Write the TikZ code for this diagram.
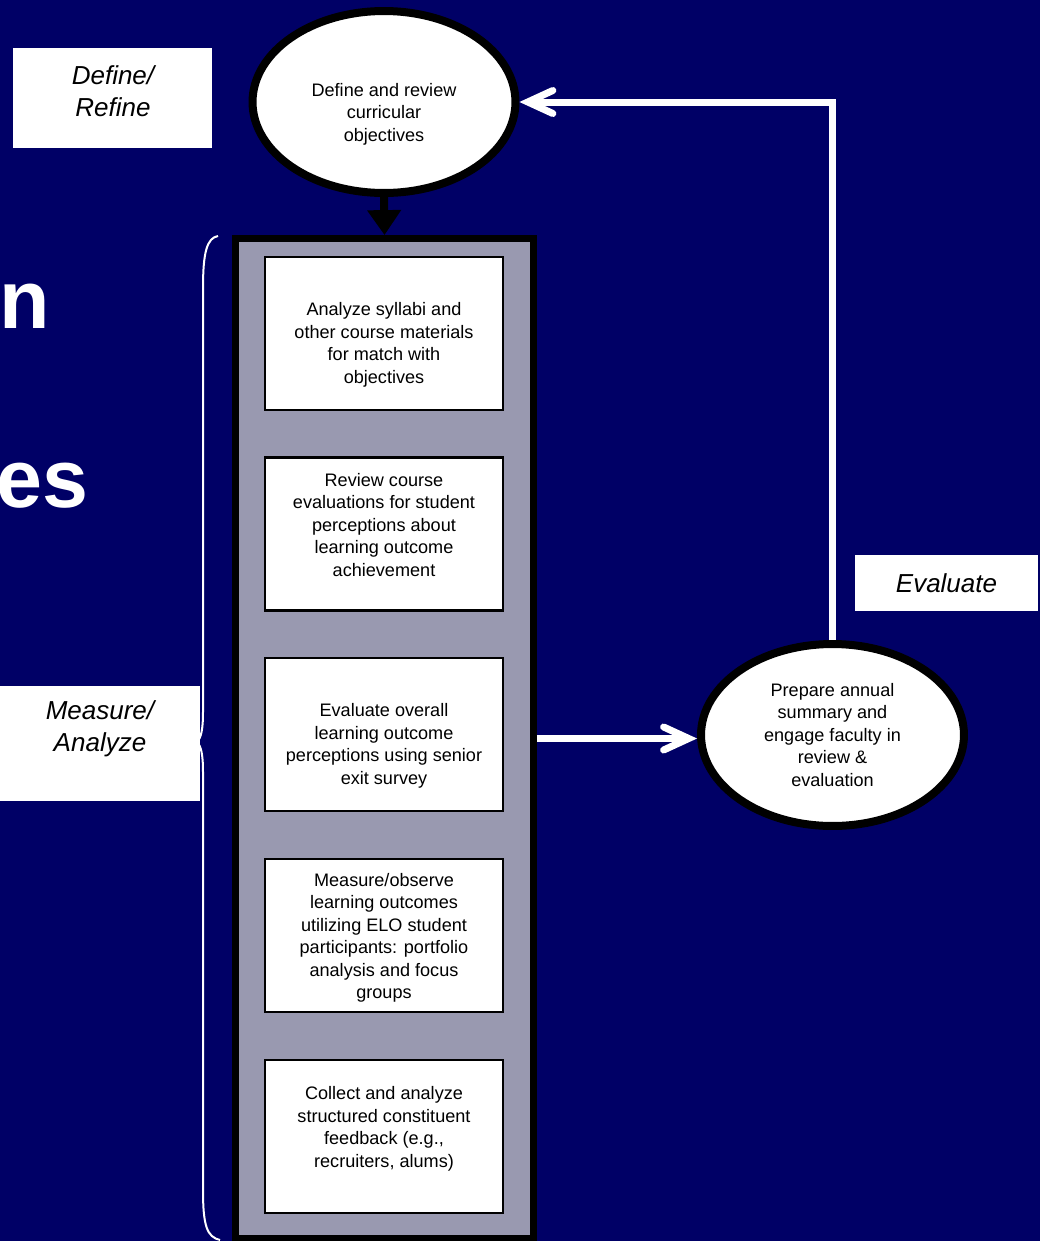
\documentclass[tikz,border=0pt]{standalone}
\usepackage{fontspec}
\setmainfont{Liberation Sans}
\usetikzlibrary{arrows.meta,shapes.geometric}

\definecolor{slidebg}{RGB}{0,0,102}
\definecolor{colgray}{RGB}{153,153,176}

\newcommand\boxfont{\fontsize{10.3}{12.8}\selectfont}
\newcommand\tagfont{\fontsize{14.8}{18}\selectfont\itshape}
\newcommand\titlefont{\fontsize{47}{50}\selectfont\bfseries}

\begin{document}
\begin{tikzpicture}[
    x=0.02cm, y=-0.02cm,
    bubble/.style={ellipse, draw=black, line width=1.6mm, fill=white, minimum width=52.6mm, minimum height=36.4mm, inner sep=0pt, font=\boxfont, align=center},
    stepbox/.style={draw=black, line width=0.45mm, fill=white, minimum width=47.6mm, minimum height=30.6mm, inner sep=0pt},
    steptext/.style={font=\boxfont, align=center, inner sep=0pt},
    tagbox/.style={fill=white, inner sep=0pt},
    tagtext/.style={font=\tagfont, align=center, inner sep=0pt},
    flow/.style={white, line width=1.4mm, -{Straight Barb[length=5mm, width=4.6mm, line cap=round]}},
    down/.style={black, line width=1.6mm, -{Triangle[length=5mm, width=6.5mm]}}
]
\useasboundingbox (0,0) rectangle (1040,1241);
\fill[slidebg] (0,0) rectangle (1040,1241);

% Cut-off title letters
\node[white, font=\titlefont, anchor=base east, inner sep=0pt] (ttl1) at (50,328) {n};
\node[white, font=\titlefont, anchor=base east, inner sep=0pt] (ttl2) at (89,507) {es};

% Brace round the measure steps
\draw[white, line width=0.4mm] (218,236) .. controls (207,238) and (203,252) .. (203,288) -- (203,712)
  .. controls (203,730) and (201,738) .. (197,742) .. controls (201,746) and (203,754) .. (203,772)
  -- (203,1190) .. controls (203,1226) and (207,1237) .. (220,1240);

% Phase labels
\node[tagbox, minimum width=39.8mm, minimum height=20mm] (definebox) at (112.5,98) {};
\node[tagtext] (definetxt) at (113,91) {Define/\\Refine};
\node[tagbox, minimum width=40mm, minimum height=23mm] (measurebox) at (100,743.5) {};
\node[tagtext] (measuretxt) at (100,729) {Measure/\\Analyze};
\node[tagbox, tagtext, minimum width=36.6mm, minimum height=11.2mm] (evaluate) at (946.5,583) {Evaluate};

% Measure column
\node[draw=black, line width=1.4mm, fill=colgray, minimum width=59.6mm, minimum height=200mm, inner sep=0pt] (column) at (384.5,738.5) {};

\node[stepbox] (s1) at (384,333.5) {};
\node[stepbox] (s2) at (384,534) {};
\node[stepbox] (s3) at (384,734.5) {};
\node[stepbox] (s4) at (384,935.5) {};
\node[stepbox] (s5) at (384,1136.5) {};

\node[steptext] (t1) at (384,345) {Analyze syllabi and\\other course materials\\for match with\\objectives};
\node[steptext] (t2) at (384,525) {Review course\\evaluations for student\\perceptions about\\learning outcome\\achievement};
\node[steptext] (t3) at (384,746) {Evaluate overall\\learning outcome\\perceptions using senior\\exit survey};
\node[steptext] (t4) at (384,938) {Measure/observe\\learning outcomes\\utilizing ELO student\\participants: portfolio\\analysis and focus\\groups};
\node[steptext] (t5) at (384,1129) {Collect and analyze\\structured constituent\\feedback (e.g.,\\recruiters, alums)};

% Ellipses
\node[bubble] (obj) at (384,102) {};
\node[steptext] (objtxt) at (384,114) {Define and review\\curricular\\objectives};
\node[bubble] (rev) at (832.5,735) {Prepare annual\\summary and\\engage faculty in\\review \&\\evaluation};

% Arrows
\draw[down] (obj.south) -- (column.north);
\draw[flow] (column.east) -- (column.east -| rev.west);
\draw[flow] (rev.north) |- (obj.east);
\end{tikzpicture}
\end{document}
